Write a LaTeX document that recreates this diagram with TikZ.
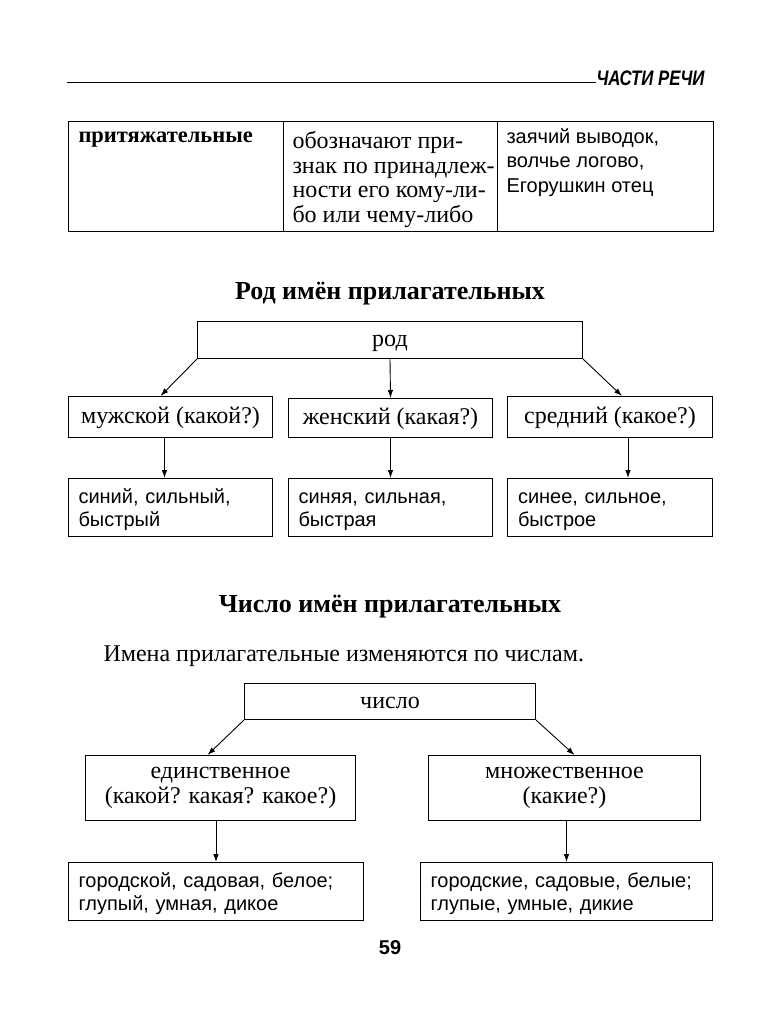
\documentclass[tikz,border=0pt]{standalone}
\usepackage{fontspec}
\setmainfont{Liberation Serif}
\newfontfamily\sansru{Liberation Sans}
\newfontfamily\chapterfont[FakeStretch=0.8]{Liberation Sans}
\usetikzlibrary{positioning,arrows.meta}

\newcommand{\bodysize}{\fontsize{24}{24.5}\selectfont}
\newcommand{\sanssize}{\sansru\fontsize{20}{23.5}\selectfont}

\tikzset{
	box/.style={draw, line width=1pt, anchor=north west, inner sep=0pt, align=center, font=\bodysize},
	onebox/.style={box, text height=18pt, text depth=4.5pt},
	listbox/.style={box, align=left, text height=19pt, font=\sanssize},
	cell/.style={anchor=north west, inner sep=0pt, align=left},
	heading/.style={inner sep=0pt, font=\bfseries\fontsize{26}{30}\selectfont},
	arr/.style={->, line width=0.9pt}
}

\begin{document}
\begin{tikzpicture}[x=1pt, y=-1pt, >={Latex[length=8pt,width=5.5pt]}, line width=1pt]
	\useasboundingbox (0,0) rectangle (780,1024);
	% header
	\node[anchor=south west, inner sep=0pt, font=\chapterfont\bfseries\itshape\fontsize{21}{21}\selectfont] (chapter) at (596,86) {ЧАСТИ РЕЧИ};
	\coordinate (rule) at (67,83);
	\draw (rule) -- (rule -| chapter.west);
	% table
	\draw (68,122) rectangle (713,232);
	\draw (283,122) -- (283,232);
	\draw (497,122) -- (497,232);
	\node[cell, font=\bfseries\fontsize{22.5}{24.5}\selectfont] (kind) at (78,131) {притяжательные};
	\node[cell, font=\bodysize] (meaning) at (292,131) {обозначают при-\\знак по принадлеж-\\ности его кому-ли-\\бо или чему-либо};
	\node[cell, font=\sansru\fontsize{20}{24.5}\selectfont] (examples) at (506,128) {заячий выводок,\\волчье логово,\\Егорушкин отец};

	% gender
	\node[heading] (genderhead) at (390,294) {Род имён прилагательных};
	\node[onebox, minimum width=385, minimum height=37] (gender) at (197,321) {род};
	\node[onebox, minimum width=204, minimum height=41] (masc) at (68,396) {мужской (какой?)};
	\node[onebox, minimum width=204, minimum height=39] (fem) at (288,398) {женский (какая?)};
	\node[onebox, minimum width=205, minimum height=41] (neut) at (507,396) {средний (какое?)};
	\node[listbox, text width=184, minimum width=204, minimum height=58] (mascex) at (68,478) {синий, сильный,\\быстрый};
	\node[listbox, text width=184, minimum width=204, minimum height=58] (femex) at (288,478) {синяя, сильная,\\быстрая};
	\node[listbox, text width=184, minimum width=205, minimum height=58] (neutex) at (507,478) {синее, сильное,\\быстрое};
	\draw [arr] (gender.south west) -- ([xshift=-10pt]masc.north);
	\draw [arr] (gender.south) -- (fem.north);
	\draw [arr] (gender.south east) -- ([xshift=12pt]neut.north);
	\draw [arr] ([xshift=-6pt]masc.south) -- ([xshift=-6pt]mascex.north);
	\draw [arr] (fem.south) -- (femex.north);
	\draw [arr] ([xshift=18pt]neut.south) -- ([xshift=18pt]neutex.north);

	% number
	\node[heading] (numberhead) at (390,607) {Число имён прилагательных};
	\node[anchor=west, inner sep=0pt, font=\bodysize] (rule2) at (103,656) {Имена прилагательные изменяются по числам.};
	\node[onebox, minimum width=291, minimum height=36] (number) at (244,683) {число};
	\node[box, minimum width=270, minimum height=65] (sing) at (85,755) {единственное\\(какой? какая? какое?)};
	\node[box, minimum width=272, minimum height=65] (plur) at (428,755) {множественное\\(какие?)};
	\node[listbox, text width=275, minimum width=295, minimum height=58] (singex) at (68,862) {городской, садовая, белое;\\глупый, умная, дикое};
	\node[listbox, text width=272, minimum width=292, minimum height=58] (plurex) at (420,862) {городские, садовые, белые;\\глупые, умные, дикие};
	\draw [arr] (number.south west) -- ([xshift=-13pt]sing.north);
	\draw [arr] (number.south east) -- ([xshift=10pt]plur.north);
	\draw [arr] (sing.south -| singex.north) -- (singex.north);
	\draw [arr] (plur.south -| plurex.north) -- (plurex.north);

	% page number
	\node[inner sep=0pt, font=\sansru\bfseries\fontsize{20}{20}\selectfont] (page) at (390,948) {59};
\end{tikzpicture}
\end{document}
